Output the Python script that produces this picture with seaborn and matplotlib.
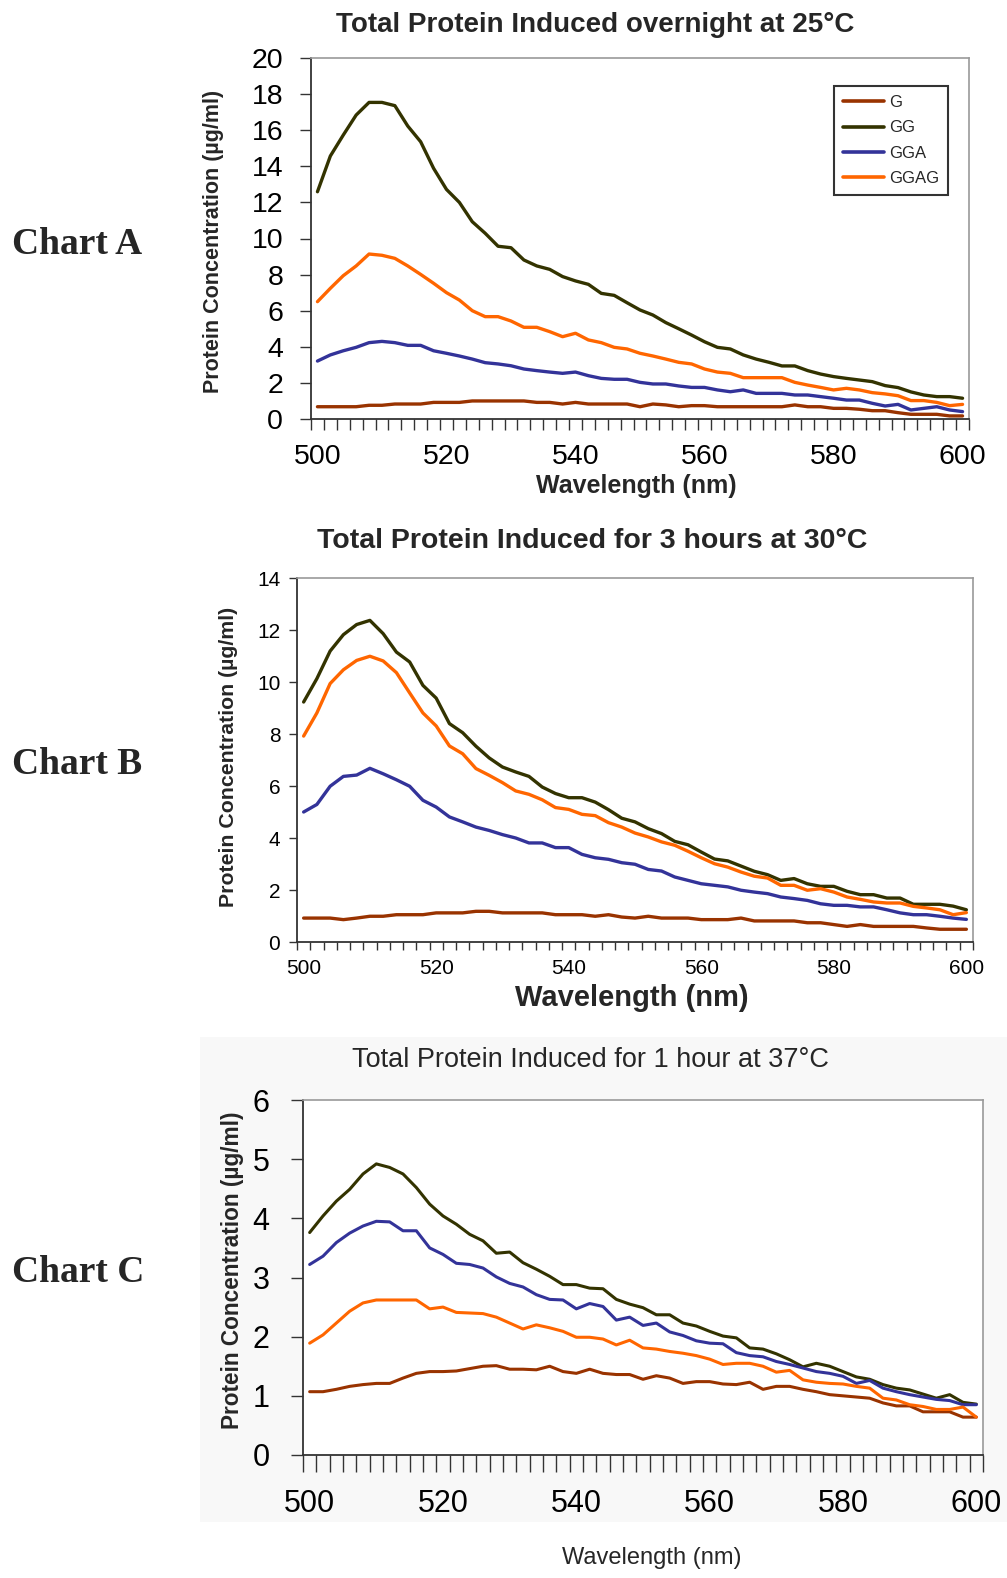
import numpy as np
import pandas as pd
import matplotlib
matplotlib.use("Agg")
import matplotlib.pyplot as plt
import seaborn as sns
from matplotlib.ticker import FixedLocator
from matplotlib.patches import Rectangle
from matplotlib import font_manager as fm

# ---------------- data ----------------
wavelength = list(range(500, 601, 2))
series_names = ["G", "GG", "GGA", "GGAG"]
series_colors = ["#993300", "#333300", "#333399", "#FF6600"]

chart_titles = ["Total Protein Induced overnight at 25°C",
                "Total Protein Induced for 3 hours at 30°C",
                "Total Protein Induced for 1 hour at 37°C"]
chart_names = ["Chart A", "Chart B", "Chart C"]
x_ticks = [500, 520, 540, 560, 580, 600]
y_ticks_a = [0, 2, 4, 6, 8, 10, 12, 14, 16, 18, 20]
y_ticks_b = [0, 2, 4, 6, 8, 10, 12, 14]
y_ticks_c = [0, 1, 2, 3, 4, 5, 6]

# Chart A (overnight, 25 C)
a_G = [0.68, 0.68, 0.68, 0.68, 0.76, 0.76, 0.83, 0.83, 0.83, 0.92, 0.92, 0.92,
       1.0, 1.0, 1.0, 1.0, 1.0, 0.92, 0.92, 0.83, 0.92, 0.83, 0.83, 0.83, 0.83,
       0.68, 0.83, 0.78, 0.68, 0.74, 0.74, 0.68, 0.68, 0.68, 0.68, 0.68, 0.68,
       0.78, 0.68, 0.68, 0.59, 0.59, 0.54, 0.46, 0.46, 0.35, 0.26, 0.26, 0.26,
       0.17, 0.17]
a_GG = [12.59, 14.57, 15.73, 16.84, 17.54, 17.54, 17.36, 16.23, 15.36, 13.89,
        12.72, 12.0, 10.93, 10.29, 9.57, 9.49, 8.81, 8.48, 8.29, 7.89, 7.65,
        7.46, 6.96, 6.85, 6.44, 6.04, 5.76, 5.34, 5.0, 4.65, 4.28, 3.97, 3.88,
        3.55, 3.32, 3.14, 2.94, 2.94, 2.68, 2.49, 2.35, 2.25, 2.16, 2.07, 1.85,
        1.74, 1.50, 1.33, 1.24, 1.24, 1.15]
a_GGA = [3.21, 3.55, 3.78, 3.97, 4.23, 4.30, 4.23, 4.08, 4.08, 3.78, 3.64, 3.49,
         3.32, 3.12, 3.05, 2.95, 2.77, 2.68, 2.60, 2.53, 2.60, 2.40, 2.25, 2.20,
         2.20, 2.03, 1.94, 1.94, 1.83, 1.75, 1.75, 1.61, 1.51, 1.61, 1.42, 1.42,
         1.42, 1.33, 1.33, 1.24, 1.15, 1.05, 1.05, 0.87, 0.72, 0.81, 0.50, 0.59,
         0.68, 0.50, 0.41]
a_GGAG = [6.50, 7.24, 7.94, 8.48, 9.14, 9.07, 8.90, 8.48, 8.01, 7.52, 7.00, 6.59,
          6.00, 5.67, 5.67, 5.43, 5.08, 5.08, 4.84, 4.56, 4.75, 4.38, 4.23, 3.97,
          3.88, 3.64, 3.49, 3.32, 3.14, 3.05, 2.77, 2.60, 2.53, 2.29, 2.29, 2.29,
          2.29, 2.03, 1.88, 1.75, 1.61, 1.70, 1.61, 1.46, 1.39, 1.29, 1.02, 1.02,
          0.92, 0.74, 0.81]

# Chart B (3 hours, 30 C)
b_G = [0.92, 0.92, 0.92, 0.86, 0.92, 0.99, 0.99, 1.05, 1.05, 1.05, 1.12, 1.12,
       1.12, 1.18, 1.18, 1.12, 1.12, 1.12, 1.12, 1.05, 1.05, 1.05, 0.99, 1.05,
       0.96, 0.92, 0.99, 0.92, 0.92, 0.92, 0.86, 0.86, 0.86, 0.92, 0.81, 0.81,
       0.81, 0.81, 0.74, 0.74, 0.67, 0.60, 0.67, 0.60, 0.60, 0.60, 0.60, 0.54,
       0.49, 0.49, 0.49]
b_GG = [9.23, 10.13, 11.19, 11.82, 12.21, 12.37, 11.86, 11.15, 10.77, 9.87, 9.38,
        8.40, 8.05, 7.53, 7.08, 6.73, 6.54, 6.37, 5.96, 5.71, 5.55, 5.55, 5.38,
        5.09, 4.76, 4.62, 4.36, 4.17, 3.87, 3.74, 3.46, 3.19, 3.12, 2.92, 2.72,
        2.59, 2.37, 2.44, 2.24, 2.14, 2.14, 1.95, 1.82, 1.82, 1.69, 1.69, 1.45,
        1.45, 1.45, 1.38, 1.24]
b_GGA = [5.00, 5.29, 5.99, 6.37, 6.42, 6.68, 6.47, 6.24, 5.99, 5.45, 5.19, 4.81,
         4.62, 4.42, 4.29, 4.13, 4.00, 3.81, 3.81, 3.63, 3.63, 3.37, 3.24, 3.18,
         3.05, 2.99, 2.79, 2.73, 2.50, 2.37, 2.24, 2.18, 2.12, 1.99, 1.92, 1.86,
         1.73, 1.67, 1.60, 1.47, 1.41, 1.41, 1.35, 1.35, 1.24, 1.12, 1.05, 1.05,
         0.99, 0.92, 0.87]
b_GGAG = [7.92, 8.81, 9.94, 10.47, 10.83, 10.99, 10.81, 10.36, 9.58, 8.81, 8.31,
          7.54, 7.24, 6.67, 6.41, 6.13, 5.81, 5.68, 5.47, 5.17, 5.10, 4.91, 4.86,
          4.59, 4.42, 4.19, 4.04, 3.85, 3.72, 3.49, 3.24, 3.01, 2.88, 2.69, 2.53,
          2.46, 2.18, 2.18, 1.99, 2.05, 1.92, 1.73, 1.64, 1.54, 1.50, 1.50, 1.37,
          1.31, 1.24, 1.05, 1.13]

# Chart C (1 hour, 37 C)
c_G = [1.07, 1.07, 1.11, 1.16, 1.19, 1.21, 1.21, 1.30, 1.38, 1.41, 1.41, 1.42,
       1.46, 1.50, 1.51, 1.45, 1.45, 1.44, 1.50, 1.41, 1.38, 1.45, 1.38, 1.36,
       1.36, 1.28, 1.34, 1.30, 1.21, 1.24, 1.24, 1.20, 1.19, 1.23, 1.11, 1.16,
       1.16, 1.11, 1.07, 1.02, 1.00, 0.98, 0.96, 0.88, 0.83, 0.83, 0.73, 0.73,
       0.73, 0.64, 0.64]
c_GG = [3.76, 4.04, 4.29, 4.49, 4.75, 4.92, 4.86, 4.75, 4.52, 4.24, 4.04, 3.90,
        3.73, 3.62, 3.41, 3.43, 3.25, 3.14, 3.02, 2.88, 2.88, 2.82, 2.81, 2.63,
        2.55, 2.49, 2.37, 2.37, 2.23, 2.18, 2.09, 2.01, 1.98, 1.81, 1.79, 1.71,
        1.61, 1.49, 1.55, 1.50, 1.41, 1.32, 1.28, 1.19, 1.13, 1.10, 1.03, 0.96,
        1.02, 0.89, 0.86]
c_GGA = [3.22, 3.36, 3.59, 3.75, 3.87, 3.95, 3.94, 3.79, 3.79, 3.50, 3.39, 3.24,
         3.22, 3.16, 3.01, 2.90, 2.84, 2.71, 2.63, 2.62, 2.47, 2.56, 2.51, 2.28,
         2.33, 2.19, 2.23, 2.08, 2.02, 1.93, 1.89, 1.88, 1.73, 1.68, 1.66, 1.58,
         1.53, 1.47, 1.41, 1.38, 1.33, 1.21, 1.26, 1.13, 1.07, 1.02, 0.98, 0.94,
         0.92, 0.85, 0.85]
c_GGAG = [1.89, 2.03, 2.23, 2.43, 2.57, 2.62, 2.62, 2.62, 2.62, 2.47, 2.50, 2.41,
          2.40, 2.39, 2.33, 2.23, 2.13, 2.20, 2.15, 2.09, 1.99, 1.99, 1.96, 1.86,
          1.94, 1.81, 1.79, 1.75, 1.72, 1.68, 1.62, 1.53, 1.55, 1.55, 1.50, 1.40,
          1.43, 1.27, 1.23, 1.21, 1.20, 1.16, 1.13, 0.96, 0.93, 0.85, 0.82, 0.77,
          0.77, 0.81, 0.64]

# ---------------- style ----------------
sns.set_theme(style="ticks")
plt.rcParams["font.family"] = ["Liberation Sans", "DejaVu Sans"]

available = {f.name for f in fm.fontManager.ttflist}
narrow = ["Liberation Sans Narrow", "Liberation Sans", "DejaVu Sans"] if "Liberation Sans Narrow" in available \
    else ["Liberation Sans", "DejaVu Sans"]
serif = ["Liberation Serif", "DejaVu Serif"]

W, H = 1007, 1578
fig = plt.figure(figsize=(W / 100, H / 100), dpi=100)
fig.patch.set_facecolor("white")

# faint grey backdrop behind chart C (pasted screenshot look)
fig.patches.append(Rectangle((200 / W, 1 - 1522 / H), 807 / W, (1522 - 1037) / H,
                             transform=fig.transFigure, facecolor="#f8f8f8",
                             edgecolor="none", zorder=-10))


def axes_px(left, top, right, bottom):
    return fig.add_axes([left / W, 1 - bottom / H, (right - left) / W, (bottom - top) / H])


palette = dict(zip(series_names, series_colors))

charts = [
    dict(data=[a_G, a_GG, a_GGA, a_GGAG], box=(311, 58, 969, 419), yticks=y_ticks_a,
         ytl=20.5, xtl=20.5, ypad=12, xpad=12, ylen=8, xlen=8, lw=2.4),
    dict(data=[b_G, b_GG, b_GGA, b_GGAG], box=(297, 578, 973, 942), yticks=y_ticks_b,
         ytl=15, xtl=15, ypad=6, xpad=8, ylen=6, xlen=6, lw=2.4),
    dict(data=[c_G, c_GG, c_GGA, c_GGAG], box=(303, 1100, 983, 1455), yticks=y_ticks_c,
         ytl=22, xtl=22, ypad=15, xpad=16, ylen=9, xlen=12, lw=2.2),
]

axes = []
for i, ch in enumerate(charts):
    ax = axes_px(*ch["box"])
    ax.set_facecolor("white")
    rows = []
    for name, vals in zip(series_names, ch["data"]):
        for w, v in zip(wavelength, vals):
            rows.append((w, v, name))
    df = pd.DataFrame(rows, columns=["Wavelength", "Value", "Series"])
    sns.lineplot(data=df, x="Wavelength", y="Value", hue="Series", palette=palette,
                 hue_order=series_names, linewidth=ch["lw"], ax=ax, legend=(i == 0),
                 errorbar=None)
    ax.set_xlim(499, 601)
    ax.set_ylim(ch["yticks"][0], ch["yticks"][-1])
    ax.set_xlabel("")
    ax.set_ylabel("")
    ax.set_xticks(x_ticks)
    ax.set_xticklabels([str(t) for t in x_ticks])
    ax.xaxis.set_minor_locator(FixedLocator(np.arange(499, 602, 2)))
    ax.set_yticks(ch["yticks"])
    ax.set_yticklabels([str(t) for t in ch["yticks"]])
    ax.tick_params(axis="x", which="major", length=0, pad=ch["xpad"] + ch["xlen"] * 0.72,
                   labelsize=ch["xtl"], colors="black")
    ax.tick_params(axis="x", which="minor", length=ch["xlen"], width=1.0, color="#333333",
                   direction="out")
    ax.tick_params(axis="y", which="major", length=ch["ylen"], width=1.0, color="#333333",
                   direction="out", pad=ch["ypad"], labelsize=ch["ytl"], labelcolor="black")
    ax.tick_params(axis="y", which="minor", length=0)
    for s in ["left", "bottom"]:
        ax.spines[s].set_color("#333333")
        ax.spines[s].set_linewidth(1.3)
    for s in ["top", "right"]:
        ax.spines[s].set_visible(True)
        ax.spines[s].set_color("#9a9a9a")
        ax.spines[s].set_linewidth(1.2)
    if i == 2:
        for lab in ax.get_xticklabels() + ax.get_yticklabels():
            lab.set_family(narrow)
    axes.append(ax)

# legend on chart A
handles, labels = axes[0].get_legend_handles_labels()
axes[0].get_legend().remove()
leg = axes[0].legend(handles, labels, loc="upper right",
                     bbox_to_anchor=(948 / W, 1 - 86 / H), bbox_transform=fig.transFigure,
                     frameon=True, fancybox=False, shadow=False, edgecolor="black",
                     fontsize=12, handlelength=2.45, handletextpad=0.3,
                     labelspacing=0.62, borderpad=0.55, borderaxespad=0)
leg.get_frame().set_linewidth(1.5)
for line in leg.get_lines():
    line.set_linewidth(2.6)

# titles
fig.text(595 / W, 1 - 25 / H, chart_titles[0], ha="center", va="center",
         fontsize=20, fontweight="bold")
fig.text(592 / W, 1 - 541 / H, chart_titles[1], ha="center", va="center",
         fontsize=20.5, fontweight="bold")
fig.text(590 / W, 1 - 1060 / H, chart_titles[2], ha="center", va="center",
         fontsize=19.5, family=narrow)

# x labels
fig.text(636 / W, 1 - 486 / H, "Wavelength (nm)", ha="center", va="center",
         fontsize=18, fontweight="bold")
fig.text(632 / W, 1 - 998 / H, "Wavelength (nm)", ha="center", va="center",
         fontsize=21, fontweight="bold")
fig.text(652 / W, 1 - 1558 / H, "Wavelength (nm)", ha="center", va="center",
         fontsize=17, family=narrow)

# y labels
ylab = "Protein Concentration (µg/ml)"
fig.text(213 / W, 1 - 241 / H, ylab, ha="center", va="center", rotation=90,
         fontsize=15.5, fontweight="bold")
fig.text(229 / W, 1 - 757 / H, ylab, ha="center", va="center", rotation=90,
         fontsize=15.3, fontweight="bold")
fig.text(233 / W, 1 - 1270 / H, ylab, ha="center", va="center", rotation=90,
         fontsize=16.3, fontweight="bold", family=narrow)

# chart names
for name, yc in zip(chart_names, [245, 764, 1273]):
    fig.text(12 / W, 1 - yc / H, name, ha="left", va="center",
             fontsize=27, fontweight="bold", family=serif)

fig.savefig("out.png", dpi=100)
